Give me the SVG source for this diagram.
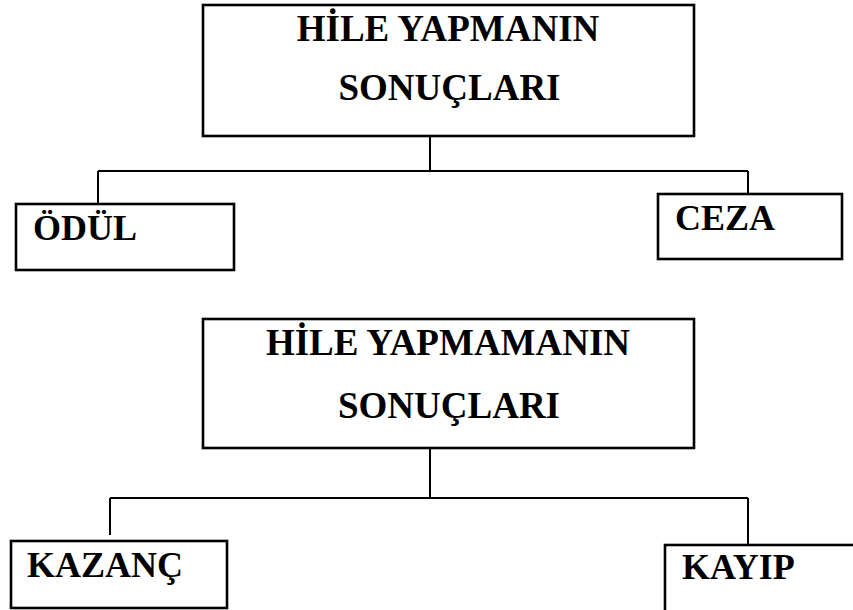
<svg xmlns="http://www.w3.org/2000/svg" width="853" height="610" viewBox="0 0 853 610">
<style>
.box{fill:#fff;stroke:#000;stroke-width:2.6}
.conn{fill:none;stroke:#000;stroke-width:2}
.h{font-family:"Liberation Serif","Times New Roman",serif;font-weight:bold;font-size:37px;fill:#000}
.l{font-family:"Liberation Serif","Times New Roman",serif;font-weight:bold;font-size:36px;fill:#000}
</style>
<rect width="853" height="610" fill="#fff"/>
<g id="connectors">
<path class="conn" d="M430 136 V171 M98 171 H748 M98 171 V203 M748 171 V194"/>
<path class="conn" d="M430 448 V498 M110 498 H748 M110 498 V535 M748 498 V545"/>
</g>
<g id="hile-yapmanin">
<rect class="box" x="203" y="5" width="491" height="131"/>
<text class="h" x="448" y="41" text-anchor="middle">HİLE YAPMANIN</text>
<text class="h" x="449.5" y="100" text-anchor="middle">SONUÇLARI</text>
</g>
<g id="odul">
<rect class="box" x="16" y="204" width="218" height="66"/>
<text class="l" x="33" y="240">ÖDÜL</text>
</g>
<g id="ceza">
<rect class="box" x="658" y="194" width="184" height="65"/>
<text class="l" x="675" y="230">CEZA</text>
</g>
<g id="hile-yapmamanin">
<rect class="box" x="203" y="319" width="491" height="129"/>
<text class="h" x="448" y="355" text-anchor="middle">HİLE YAPMAMANIN</text>
<text class="h" x="449" y="418" text-anchor="middle">SONUÇLARI</text>
</g>
<g id="kazanc">
<rect class="box" x="11" y="541" width="216" height="67"/>
<text class="l" x="27" y="577">KAZANÇ</text>
</g>
<g id="kayip">
<rect class="box" x="665" y="545" width="200" height="80"/>
<text class="l" x="682" y="579">KAYIP</text>
</g>
</svg>
